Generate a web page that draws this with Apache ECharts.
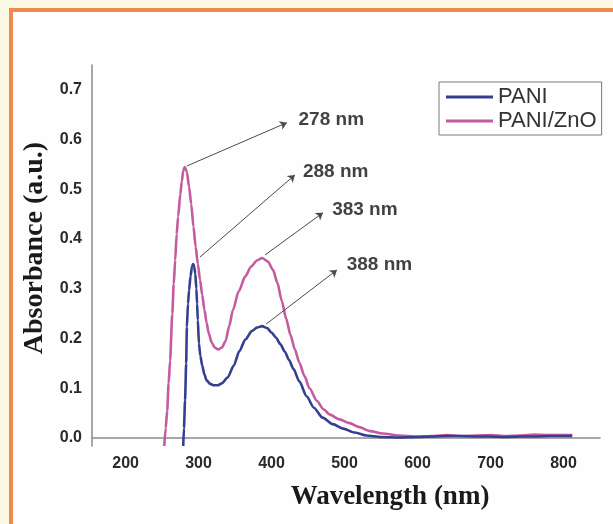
<!DOCTYPE html>
<html>
<head>
<meta charset="utf-8">
<script src="https://cdn.jsdelivr.net/npm/echarts@6/dist/echarts.min.js"></script>
<style>
html,body{margin:0;padding:0;background:#fdfbf0;}
#c{width:613px;height:524px;}
</style>
</head>
<body>
<div id="c"></div>
<script>
// ---- Data ----
const xTickValues = [200, 300, 400, 500, 600, 700, 800];
const yTickValues = [0, 0.1, 0.2, 0.3, 0.4, 0.5, 0.6, 0.7];

const paniWavelength = [279,280,281.5,283,284,285.5,287,289,291,292.5,294,295.5,297,298,299,300.5,302.5,305,308,311,316,321,326,332,340,348,356,364,373,380,387,394,400,406,412,418,424,430,438,448,458,470,484,498,514,530,550,575,600,620,640,660,680,700,720,740,760,780,800,812];
const paniAbsorbance = [-0.016,0.02,0.076,0.15,0.223,0.27,0.297,0.325,0.345,0.35,0.345,0.33,0.3,0.27,0.237,0.19,0.165,0.146,0.128,0.116,0.109,0.106,0.106,0.11,0.122,0.145,0.175,0.198,0.215,0.222,0.225,0.221,0.212,0.202,0.189,0.174,0.157,0.139,0.114,0.084,0.061,0.041,0.028,0.019,0.011,0.005,0.002,0.001,0.002,0.003,0.004,0.004,0.003,0.003,0.002,0.003,0.003,0.004,0.004,0.004];

const paniZnoWavelength = [253,255,257,259,261,264,266,268,270,272,275,277,279,281,284,287,290,293,296,299,302,305,308,311,314,318,322,327,332,337,342,347,355,364,372,380,387,395,402,408,414,420,426,432,438,445,452,462,471,480,492,507,520,535,552,575,599,620,640,660,680,700,720,740,760,780,800,812];
const paniZnoAbsorbance = [-0.016,0.02,0.055,0.11,0.156,0.25,0.31,0.358,0.41,0.445,0.49,0.515,0.538,0.545,0.535,0.505,0.47,0.425,0.385,0.35,0.318,0.288,0.258,0.232,0.21,0.192,0.182,0.178,0.182,0.195,0.225,0.257,0.295,0.325,0.345,0.357,0.362,0.355,0.338,0.312,0.276,0.24,0.207,0.178,0.152,0.125,0.1,0.075,0.058,0.047,0.038,0.03,0.022,0.014,0.009,0.005,0.003,0.004,0.006,0.004,0.005,0.006,0.004,0.005,0.007,0.006,0.006,0.006];

// Peak annotations: arrow from peak to label, in data coordinates
const annotationText = ['278 nm', '288 nm', '383 nm', '388 nm'];
const annotationFrom = [[284, 0.547], [302, 0.364], [391, 0.368], [392.5, 0.229]];
const annotationTo   = [[421, 0.634], [432, 0.529], [470.5, 0.453], [489.7, 0.338]];
const annotationLabelAt = [[437, 0.640], [443, 0.535], [483, 0.459], [503, 0.348]];

const seriesNames = ['PANI', 'PANI/ZnO'];

// ---- Build ----
const zip = (a, b) => a.map((v, i) => [v, b[i]]);
const chart = echarts.init(document.getElementById('c'), null, {renderer: 'canvas'});

const tickFont = {fontFamily: 'Liberation Sans', fontWeight: 'bold', fontSize: 16, color: '#2a2a2a'};

chart.setOption({
  backgroundColor: '#fefefe',
  animation: false,
  grid: {left: 92, top: 65, right: 13, bottom: 78},
  xAxis: {
    type: 'value', min: 154, max: 850,
    splitLine: {show: false},
    axisTick: {show: false},
    axisLine: {lineStyle: {color: '#8a8a8a', width: 1.5}},
    axisLabel: Object.assign({customValues: xTickValues, margin: 10}, tickFont),
    name: 'Wavelength (nm)', nameLocation: 'middle', nameGap: 38,
    nameTextStyle: {fontFamily: 'Liberation Serif', fontWeight: 'bold', fontSize: 27, color: '#1a1a1a', padding: [0, 0, 0, 88]}
  },
  yAxis: {
    type: 'value', min: -0.016, max: 0.75,
    splitLine: {show: false},
    axisTick: {show: false},
    axisLine: {show: true, lineStyle: {color: '#8a8a8a', width: 1.5}},
    axisLabel: Object.assign({customValues: yTickValues, margin: 10, formatter: v => v.toFixed(1)}, tickFont),
    name: 'Absorbance (a.u.)', nameLocation: 'middle', nameGap: 43, nameRotate: 90,
    nameTextStyle: {fontFamily: 'Liberation Serif', fontWeight: 'bold', fontSize: 28, color: '#1a1a1a', padding: [0, 0, 0, 15]}
  },
  legend: {
    data: seriesNames, orient: 'vertical', left: 439, top: 82,
    icon: 'rect', itemWidth: 47, itemHeight: 3,
    padding: [4, 5, 3, 7], itemGap: 2,
    borderColor: '#7a7a7a', borderWidth: 1, backgroundColor: '#fff',
    textStyle: {fontFamily: 'Liberation Sans', fontSize: 22, lineHeight: 21, color: '#333'}
  },
  graphic: [
    {type: 'rect', shape: {x: 0, y: 0, width: 613, height: 8}, style: {fill: '#fbf8e4'}, silent: true},
    {type: 'rect', shape: {x: 0, y: 0, width: 9, height: 524}, style: {fill: '#fbf8e4'}, silent: true},
    {type: 'rect', shape: {x: 9, y: 8, width: 604, height: 4}, style: {fill: '#ef8a4e'}, silent: true},
    {type: 'rect', shape: {x: 9, y: 8, width: 4, height: 516}, style: {fill: '#ef8a4e'}, silent: true}
  ],
  series: [
    {name: seriesNames[0], type: 'line', data: zip(paniWavelength, paniAbsorbance), symbol: 'none',
     smooth: 0.25, smoothMonotone: 'x',
     color: '#34408f', lineStyle: {width: 2.6, color: '#34408f'}, z: 3},
    {name: seriesNames[1], type: 'line', data: zip(paniZnoWavelength, paniZnoAbsorbance), symbol: 'none',
     smooth: 0.25, smoothMonotone: 'x',
     color: '#c45b9f', lineStyle: {width: 2.6, color: '#c45b9f'}, z: 2},
    {type: 'lines', coordinateSystem: 'cartesian2d', silent: true, z: 4,
     symbol: ['none', 'arrow'], symbolSize: 7,
     lineStyle: {color: '#4a4a4a', width: 1, opacity: 1},
     data: annotationFrom.map((p, i) => ({coords: [p, annotationTo[i]]}))},
    {type: 'scatter', silent: true, symbolSize: 0, z: 5,
     data: annotationLabelAt.map((p, i) => ({value: p, name: annotationText[i]})),
     label: {show: true, position: 'right', distance: 0, formatter: p => p.name,
             fontFamily: 'Liberation Sans', fontWeight: 'bold', fontSize: 19, color: '#111'}}
  ]
});
</script>
</body>
</html>
